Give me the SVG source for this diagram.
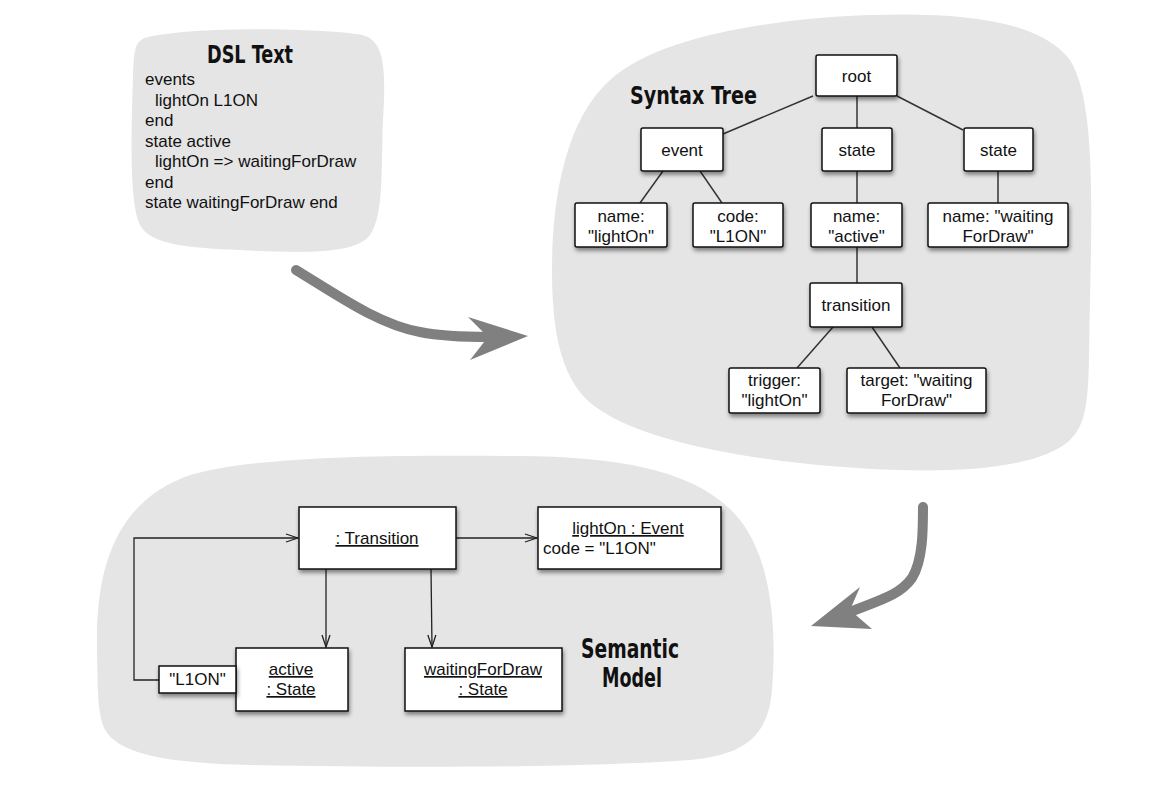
<svg xmlns="http://www.w3.org/2000/svg" width="1165" height="787" viewBox="0 0 1165 787">
<style>
.blob{fill:#e5e5e5;stroke:none}
.big{fill:none;stroke:#808080;stroke-width:10;stroke-linecap:round}
.bighead{fill:#808080}
.box{fill:#fff;stroke:#111;stroke-width:1.5}
.t{font-family:"Liberation Sans",Arial,sans-serif;font-size:17px;fill:#111;text-anchor:middle}
.tl{font-family:"Liberation Sans",Arial,sans-serif;font-size:17px;fill:#111}
.u{text-decoration:underline}
.title{font-family:"Liberation Sans Narrow","DejaVu Sans Condensed","Liberation Sans",sans-serif;font-weight:bold;fill:#111}
.edge{fill:none;stroke:#333;stroke-width:1.5}
.link{fill:none;stroke:#222;stroke-width:1.3}
</style>
<defs>
<filter id="sh" x="-20%" y="-20%" width="150%" height="170%">
<feDropShadow dx="1" dy="3" stdDeviation="2" flood-color="#000" flood-opacity="0.45"/>
</filter>
<marker id="open" viewBox="0 0 14 10" refX="13" refY="5" markerWidth="14" markerHeight="10" markerUnits="userSpaceOnUse" orient="auto">
<path d="M1,1 L13,5 L1,9" fill="none" stroke="#222" stroke-width="1.3"/>
</marker>
</defs>
<rect width="1165" height="787" fill="#fff"/>

<g id="dsl-text">
<path class="blob" d="M145,38 C190,26 320,28 362,35 C385,40 386,70 383,120 C381,170 384,215 370,235 C355,255 300,253 240,250 C190,248 150,245 140,225 C128,200 132,120 133,75 C134,50 135,42 145,38 Z"/>
<text class="title" x="250" y="63" font-size="24" text-anchor="middle" textLength="86" lengthAdjust="spacingAndGlyphs">DSL Text</text>
<text class="tl" x="145" y="85">events</text>
<text class="tl" x="155" y="105.5">lightOn L1ON</text>
<text class="tl" x="145" y="126">end</text>
<text class="tl" x="145" y="146.5">state active</text>
<text class="tl" x="155" y="167">lightOn =&gt; waitingForDraw</text>
<text class="tl" x="145" y="187.5">end</text>
<text class="tl" x="145" y="208">state waitingForDraw end</text>
</g>

<g id="syntax-tree">
<path class="blob" d="M870,15 C960,12 1040,20 1070,60 C1095,100 1092,200 1090,300 C1088,380 1092,420 1070,440 C1040,468 960,472 900,470 C800,467 660,450 600,410 C560,385 552,330 552,270 C552,200 565,120 610,80 C660,35 780,18 870,15 Z"/>
<text class="title" x="630" y="104" font-size="24" textLength="127" lengthAdjust="spacingAndGlyphs">Syntax Tree</text>
</g>

<g id="semantic-model">
<path class="blob" d="M97,650 C95,560 120,500 190,475 C260,455 400,455 520,456 C620,457 700,470 740,520 C775,565 776,640 772,690 C768,740 740,755 690,760 C580,768 400,768 250,765 C170,763 120,755 105,730 C97,712 98,690 97,650 Z"/>
<text class="title" x="630" y="658" font-size="26" text-anchor="middle" textLength="98" lengthAdjust="spacingAndGlyphs">Semantic</text>
<text class="title" x="632" y="687" font-size="26" text-anchor="middle" textLength="60" lengthAdjust="spacingAndGlyphs">Model</text>
</g>

<g id="flow-arrows">
<path class="big" d="M296,270 C340,297 380,325 420,332 C440,336 460,337 490,337"/>
<polygon class="bighead" points="468,317 528,336 470,360 488,337"/>
<path class="big" d="M923,507 C923,530 923,560 912,578 C900,595 880,600 850,612"/>
<polygon class="bighead" points="860,587 850,610 872,629 811,626"/>
</g>

<g id="connectors">
<line class="edge" x1="813" y1="96" x2="723" y2="134"/>
<line class="edge" x1="857" y1="96" x2="857" y2="128"/>
<line class="edge" x1="897" y1="96" x2="963" y2="130"/>
<line class="edge" x1="663" y1="171" x2="640" y2="203"/>
<line class="edge" x1="700" y1="171" x2="722" y2="203"/>
<line class="edge" x1="857" y1="171" x2="857" y2="203"/>
<line class="edge" x1="998" y1="171" x2="998" y2="203"/>
<line class="edge" x1="857" y1="247" x2="857" y2="283"/>
<line class="edge" x1="833" y1="327" x2="797" y2="368"/>
<line class="edge" x1="872" y1="327" x2="900" y2="368"/>
<path class="link" d="M159,680 H134 V538 H298" marker-end="url(#open)"/>
<path class="link" d="M456,538 H537" marker-end="url(#open)"/>
<path class="link" d="M326,569 V647" marker-end="url(#open)"/>
<path class="link" d="M431,569 L432,647" marker-end="url(#open)"/>
</g>

<g id="n-root"><rect class="box" x="816" y="55" width="81" height="41" rx="2" filter="url(#sh)"/><text class="t" x="856.5" y="82">root</text></g>
<g id="n-event"><rect class="box" x="641" y="128" width="82" height="43" rx="2" filter="url(#sh)"/><text class="t" x="682" y="156">event</text></g>
<g id="n-state1"><rect class="box" x="822" y="128" width="70" height="43" rx="2" filter="url(#sh)"/><text class="t" x="857" y="156">state</text></g>
<g id="n-state2"><rect class="box" x="964" y="128" width="69" height="43" rx="2" filter="url(#sh)"/><text class="t" x="998.5" y="156">state</text></g>
<g id="n-name-lighton"><rect class="box" x="575" y="203" width="92" height="44" rx="2" filter="url(#sh)"/><text class="t" x="621" y="222">name:</text><text class="t" x="621" y="242">"lightOn"</text></g>
<g id="n-code"><rect class="box" x="693" y="203" width="90" height="44" rx="2" filter="url(#sh)"/><text class="t" x="738" y="222">code:</text><text class="t" x="738" y="242">"L1ON"</text></g>
<g id="n-name-active"><rect class="box" x="811" y="203" width="91" height="44" rx="2" filter="url(#sh)"/><text class="t" x="856.5" y="222">name:</text><text class="t" x="856.5" y="242">"active"</text></g>
<g id="n-name-waiting"><rect class="box" x="928" y="203" width="140" height="44" rx="2" filter="url(#sh)"/><text class="t" x="998" y="222">name: "waiting</text><text class="t" x="998" y="242">ForDraw"</text></g>
<g id="n-transition"><rect class="box" x="810" y="283" width="92" height="44" rx="2" filter="url(#sh)"/><text class="t" x="856" y="311">transition</text></g>
<g id="n-trigger"><rect class="box" x="729" y="368" width="91" height="45" rx="2" filter="url(#sh)"/><text class="t" x="774.5" y="386">trigger:</text><text class="t" x="774.5" y="406">"lightOn"</text></g>
<g id="n-target"><rect class="box" x="847" y="368" width="139" height="45" rx="2" filter="url(#sh)"/><text class="t" x="916.5" y="386">target: "waiting</text><text class="t" x="916.5" y="406">ForDraw"</text></g>

<g id="o-transition"><rect class="box" x="299" y="507" width="157" height="62" filter="url(#sh)"/><text class="t u" x="377" y="544">: Transition</text></g>
<g id="o-lighton-event"><rect class="box" x="538" y="507" width="183" height="62" filter="url(#sh)"/><text class="t u" x="628" y="534">lightOn : Event</text><text class="tl" x="543" y="554">code = "L1ON"</text></g>
<g id="o-active"><rect class="box" x="236" y="648" width="112" height="63" filter="url(#sh)"/><text class="t u" x="291" y="675">active</text><text class="t u" x="291" y="695">: State</text></g>
<g id="o-qualifier"><rect class="box" x="159" y="666" width="77" height="27" filter="url(#sh)"/><text class="t" x="197.5" y="685">"L1ON"</text></g>
<g id="o-waiting"><rect class="box" x="405" y="648" width="157" height="63" filter="url(#sh)"/><text class="t u" x="483" y="675">waitingForDraw</text><text class="t u" x="483" y="695">: State</text></g>
</svg>
